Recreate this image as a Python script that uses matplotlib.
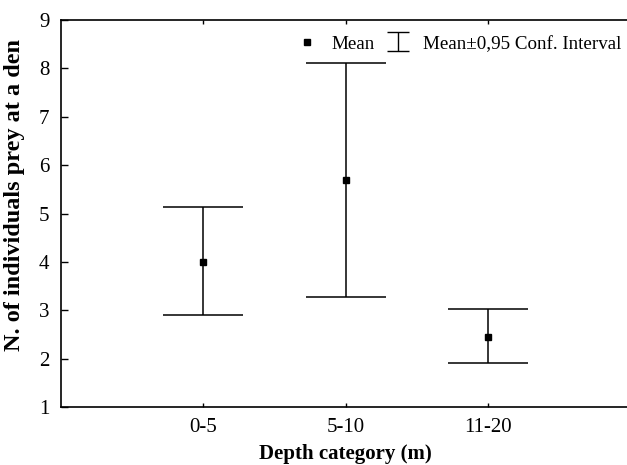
import matplotlib
matplotlib.use("Agg")
import matplotlib.pyplot as plt
import numpy as np

# Data
categories = ["0-5", "5-10", "11-20"]
means = [4.0, 5.69, 2.44]
ci_low = [2.90, 3.28, 1.90]
ci_high = [5.13, 8.11, 3.02]

plt.rcParams['font.family'] = ['Liberation Serif', 'DejaVu Serif']
plt.rcParams['font.size'] = 15

fig = plt.figure(figsize=(6.27, 4.65), dpi=100)
ax = fig.add_axes([0.0968, 0.1247, 0.9096, 0.8323])

x = np.arange(1, len(categories) + 1)
means = np.array(means)
yerr = [means - np.array(ci_low), np.array(ci_high) - means]

ax.errorbar(x, means, yerr=yerr, fmt='s', color='black', ms=5,
            elinewidth=1.1, capsize=28.8, capthick=1.1)

# legend proxies (nan data, not drawn in the plot)
mean_h = plt.Line2D([], [], marker='s', ls='none', color='black', ms=5)
ci_h = ax.errorbar([np.nan], [np.nan], yerr=[1.0], fmt='none', color='black',
                   elinewidth=1.0, capsize=8, capthick=1.0)
ax.legend([mean_h, ci_h], ["Mean", "Mean\u00b10,95 Conf. Interval"],
          ncol=2, frameon=False, loc='upper right', fontsize=13.7,
          handlelength=1.4, handletextpad=0.6, columnspacing=0.5,
          borderaxespad=0.2, bbox_to_anchor=(1.0025, 0.990))

ax.set_xlim(0, 4)
ax.set_ylim(1, 9)
ax.set_xticks(x)
ax.set_xticklabels(categories)
ax.set_yticks(range(1, 10))
ax.tick_params(axis='y', direction='in', length=5, width=1, pad=8)
ax.tick_params(axis='x', direction='in', length=3, width=1, pad=8, top=True)
for s in ax.spines.values():
    s.set_linewidth(1.2)

ax.set_xlabel("Depth category (m)", fontweight='bold', fontsize=15, labelpad=5)
ax.set_ylabel("N. of individuals prey at a den", fontweight='bold', fontsize=17.5)
ax.yaxis.set_label_coords(-0.0626, 0.548)

fig.savefig("out.png", dpi=100)
